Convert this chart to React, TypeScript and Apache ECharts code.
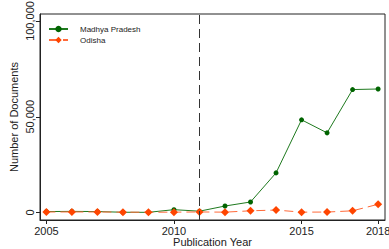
import React, { useEffect, useRef } from "react";
import * as echarts from "echarts";

const years = [2005, 2006, 2007, 2008, 2009, 2010, 2011, 2012, 2013, 2014, 2015, 2016, 2017, 2018];
const madhyaPradesh = [500, 600, 500, 150, 100, 1500, 700, 3400, 5500, 20700, 48400, 41600, 64200, 64500];
const odisha = [300, 300, 300, 200, 150, 200, 300, 200, 900, 1300, 200, 250, 900, 4300];
const xTickValues = [2005, 2010, 2015, 2018];
const yTickValues = [0, 50000, 100000];
const markerYear = 2011;

export default function App() {
  const ref = useRef<HTMLDivElement>(null);
  useEffect(() => {
    if (!ref.current) return;
    const chart = echarts.init(ref.current, null, { renderer: "svg" });
    const font = "Liberation Sans, Arial, sans-serif";
    chart.setOption({
      animation: false,
      backgroundColor: "#ffffff",
      grid: {
        left: 40,
        right: 4,
        top: 14,
        bottom: 29,
        outerBoundsMode: "none",
        containLabel: false,
        show: true,
        borderColor: "#222",
        borderWidth: 1,
      },
      legend: {
        left: 48,
        top: 25,
        padding: 0,
        orient: "vertical",
        itemWidth: 19,
        itemHeight: 8,
        itemGap: 3,
        textStyle: { fontFamily: font, fontSize: 8, color: "#222", padding: [0, 0, 0, 7] },
        data: ["Madhya Pradesh", "Odisha"],
      },
      xAxis: {
        type: "value",
        min: 2004.75,
        max: 2018.27,
        name: "Publication Year",
        nameLocation: "middle",
        nameGap: 22,
        nameMoveOverlap: false,
        nameTextStyle: { fontFamily: font, fontSize: 11, color: "#222", verticalAlign: "middle" },
        axisLine: { onZero: false, lineStyle: { color: "#222" } },
        axisTick: { customValues: xTickValues, length: 4, lineStyle: { color: "#222" } },
        axisLabel: {
          customValues: xTickValues,
          fontFamily: font,
          fontSize: 11,
          color: "#222",
          margin: 5,
          formatter: (v: number) => String(v),
        },
        splitLine: { show: false },
      },
      yAxis: {
        type: "value",
        min: -3900,
        max: 103650,
        name: "Number of Documents",
        nameLocation: "middle",
        nameGap: 26,
        nameMoveOverlap: false,
        nameRotate: 90,
        nameTextStyle: { fontFamily: font, fontSize: 11, color: "#222", verticalAlign: "middle" },
        axisLine: { show: true, lineStyle: { color: "#222" } },
        axisTick: { customValues: yTickValues, length: 4, lineStyle: { color: "#222" } },
        axisLabel: {
          customValues: yTickValues,
          rotate: 90,
          fontFamily: font,
          fontSize: 11,
          color: "#222",
          margin: 5,
          formatter: (v: number) => v.toLocaleString("en-US"),
        },
        splitLine: { show: false },
      },
      series: [
        {
          name: "Madhya Pradesh",
          type: "line",
          data: years.map((y, i) => [y, madhyaPradesh[i]]),
          symbol: "circle",
          symbolSize: 5,
          itemStyle: { color: "#006400" },
          lineStyle: { color: "#1f7a1f", width: 1 },
          z: 2,
          markLine: {
            silent: true,
            symbol: "none",
            label: { show: false },
            lineStyle: { color: "#333", type: [9, 5], width: 1 },
            data: [{ xAxis: markerYear }],
          },
        },
        {
          name: "Odisha",
          type: "line",
          data: years.map((y, i) => [y, odisha[i]]),
          symbol: "diamond",
          symbolSize: 8,
          itemStyle: { color: "#ff4500" },
          lineStyle: { color: "#ff6a3a", width: 1, type: [9, 5] },
          z: 3,
        },
      ],
    });
    return () => chart.dispose();
  }, []);
  return <div ref={ref} style={{ width: 389, height: 249, position: "absolute", left: 0, top: 0 }} />;
}
